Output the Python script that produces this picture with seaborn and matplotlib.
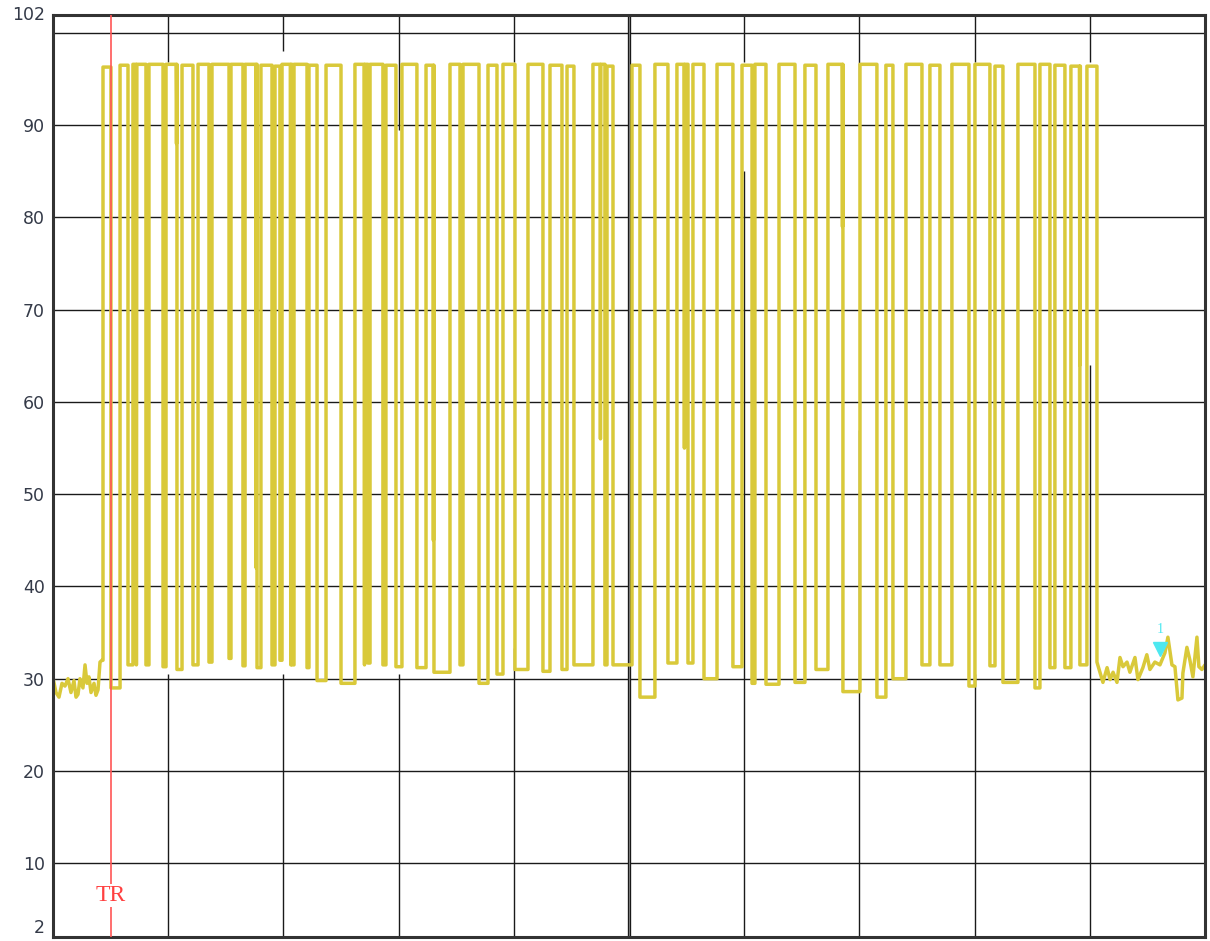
import matplotlib
matplotlib.use("Agg")
import matplotlib.pyplot as plt
import seaborn as sns
import numpy as np

# ---------------- data (x in trace samples 0..1000, y in dB) ----------------
pre_x = [0, 2.6, 5.2, 7.8, 10.4, 13.0, 15.6, 18.2, 20.0, 21.7, 23.4, 26.0, 27.8,
         29.5, 31.2, 33.0, 35.6, 37.3, 39.1, 40.8, 42.5]
pre_y = [30.1, 28.5, 28.0, 29.5, 29.2, 30.0, 28.5, 29.8, 28.0, 28.3, 30.0, 29.0,
         31.5, 29.5, 30.2, 28.5, 29.5, 28.2, 28.8, 31.8, 32.0]

pulse_rise = [43.4, 58.2, 69.4, 83.3, 98.1, 112.0, 125.9, 138.0, 154.5, 166.7,
              180.5, 192.7, 198.8, 209.2, 222.2, 237.0, 262.1, 275.2, 289.0, 302.9,
              323.8, 344.6, 355.9, 377.6, 390.6, 412.3, 431.4, 446.2, 468.7, 480.9,
              502.6, 522.5, 541.6, 555.5, 576.4, 598.1, 609.3, 630.2, 652.7, 672.7,
              700.5, 723.0, 740.4, 761.2, 780.3, 800.3, 817.7, 837.6, 856.7, 869.7,
              883.6, 897.5]
pulse_fall = [50.3, 65.1, 80.7, 95.5, 107.6, 121.5, 135.4, 152.8, 164.9, 177.1,
              190.1, 197.0, 207.5, 220.5, 229.2, 250.0, 273.4, 286.4, 297.7, 315.9,
              330.7, 353.3, 369.8, 385.4, 401.0, 425.3, 441.8, 452.2, 479.1, 486.1,
              509.5, 533.8, 551.2, 565.1, 590.2, 606.8, 618.9, 644.1, 662.3, 685.7,
              715.2, 729.1, 754.3, 769.9, 795.1, 813.3, 824.6, 852.4, 865.4, 878.4,
              891.4, 906.2]
pulse_high = [96.3, 96.5, 96.6, 96.6, 96.6, 96.5, 96.6, 96.6, 96.6, 96.6,
              96.5, 96.4, 96.6, 96.6, 96.5, 96.5, 96.6, 96.6, 96.5, 96.6,
              96.5, 96.6, 96.6, 96.5, 96.6, 96.6, 96.5, 96.4, 96.6, 96.4,
              96.5, 96.6, 96.6, 96.6, 96.6, 96.5, 96.6, 96.6, 96.5, 96.6,
              96.6, 96.5, 96.6, 96.5, 96.6, 96.6, 96.4, 96.6, 96.6, 96.5,
              96.4, 96.4]
gap_low = [29.0, 31.5, 31.5, 31.3, 31.0, 31.5, 31.8, 32.2, 31.4, 31.2,
           31.5, 32.0, 31.5, 31.2, 29.8, 29.5, 31.7, 31.5, 31.3, 31.2,
           30.7, 31.5, 29.5, 30.5, 31.0, 30.8, 31.0, 31.5, 31.5, 31.5,
           28.0, 31.7, 31.7, 30.0, 31.3, 29.5, 29.4, 29.6, 31.0, 28.6,
           28.0, 30.0, 31.5, 31.5, 29.2, 31.4, 29.6, 29.0, 31.2, 31.2,
           31.5]
# short partial drops inside some high periods (position, lowest value)
dip_x = [72.0, 106.8, 176.0, 206.0, 270.0, 329.8, 474.8, 547.7, 684.9, 891.0]
dip_y = [31.5, 88.0, 42.0, 31.5, 31.5, 45.0, 56.0, 55.0, 79.0, 64.0]

post_x = [908.8, 911.4, 915.0, 917.6, 920.2, 923.6, 926.2, 928.8, 932.3, 934.8,
          939.2, 941.8, 946.1, 949.5, 952.2, 956.5, 960.9, 965.2, 967.8, 971.3,
          973.9, 976.5, 980.0, 980.8, 984.3, 986.9, 989.5, 993.0, 994.7, 997.3, 1000]
post_y = [30.7, 29.6, 31.2, 29.9, 30.7, 29.6, 32.3, 31.3, 31.8, 30.7,
          32.3, 29.9, 31.2, 32.6, 31.0, 31.8, 31.5, 32.8, 34.5, 31.5,
          31.3, 27.7, 27.9, 30.6, 33.4, 32.0, 30.2, 34.5, 31.3, 31.0, 31.5]

trigger_x = 50.3
marker_x, marker_y = 961.0, 32.6
y_ticks = [2, 10, 20, 30, 40, 50, 60, 70, 80, 90, 102]
h_grid = [10, 20, 30, 40, 50, 60, 70, 80, 90, 100]
v_grid = [100, 200, 300, 400, 500, 600, 700, 800, 900]
# stretch of each vertical grid line hidden behind the trace area
v_hide_lo = [30.5, 30.5, 30.5, 33.3, 0, 85.0, 57.0, 30.5, 64.0]
v_hide_hi = [96.8, 98.0, 89.5, 96.8, 0, 96.8, 90.5, 96.8, 96.8]

# ---------------- build the trace ----------------
xs = list(pre_x)
ys = list(pre_y)
for i, (r, f, h) in enumerate(zip(pulse_rise, pulse_fall, pulse_high)):
    xs += [r, r]
    ys += [ys[-1], h]
    for dx, dy in zip(dip_x, dip_y):
        if r < dx < f:
            xs += [dx, dx + 0.4, dx + 0.8]
            ys += [h, dy, h]
    xs += [f]
    ys += [h]
    low = gap_low[i] if i < len(gap_low) else 31.8
    xs += [f]
    ys += [low]
    if i < len(gap_low):
        xs += [pulse_rise[i + 1]]
        ys += [low]
xs += post_x
ys += post_y

# ---------------- plot ----------------
sns.set_style("white")
plt.rcParams['font.family'] = ['DejaVu Sans']
fig = plt.figure(figsize=(12.1, 9.41), dpi=100)
ax = fig.add_axes([53 / 1210, 4 / 941, (1205 - 53) / 1210, (937 - 14.5) / 941])

for g in h_grid:
    ax.axhline(g, color='#1a1a1a', lw=1.0, zorder=1)
for g, lo, hi in zip(v_grid, v_hide_lo, v_hide_hi):
    w = 2.4 if g == 500 else 1.0
    if hi > lo:
        ax.vlines(g, 2, lo, color='#1a1a1a', lw=w, zorder=1)
        ax.vlines(g, hi, 102, color='#1a1a1a', lw=w, zorder=1)
    else:
        ax.vlines(g, 2, 102, color='#1a1a1a', lw=w, zorder=1)
ax.vlines(500, 2, 102, color='#8a8a8a', lw=0.6, zorder=1)

ax.axvline(trigger_x, color='#ff5555', lw=1.2, zorder=3)

sns.lineplot(x=xs, y=ys, estimator=None, sort=False, ax=ax,
             color='#d9c93a', lw=2.5, zorder=2)
ax.lines[-1].set_solid_joinstyle('round')

ax.text(trigger_x, 6.5, 'TR', color='#ff4040', fontsize=17,
        family=['Liberation Serif'], ha='center', va='center',
        zorder=4, bbox=dict(facecolor='white', edgecolor='none', pad=1))

ax.plot([marker_x], [marker_y + 0.6], marker='v', color='#4de8f0', ms=10, zorder=5, lw=0)
ax.text(marker_x, marker_y + 2.0, '1', color='#4de8f0', fontsize=10,
        family=['Liberation Serif'], ha='center', va='bottom', zorder=5)

ax.set_xlim(0, 1000)
ax.set_ylim(2, 102)
ax.set_xticks([])
ax.set_yticks(y_ticks)
ax.set_yticklabels([str(t) for t in y_ticks], color='#343a48', fontsize=12.5)
ax.tick_params(axis='y', length=0, pad=6)
ax.get_yticklabels()[0].set_va('bottom')
ax.get_yticklabels()[-1].set_va('center')
for s in ax.spines.values():
    s.set_color('#333333')
    s.set_linewidth(2.2)
    s.set_visible(True)

fig.savefig('out.png', dpi=100)
